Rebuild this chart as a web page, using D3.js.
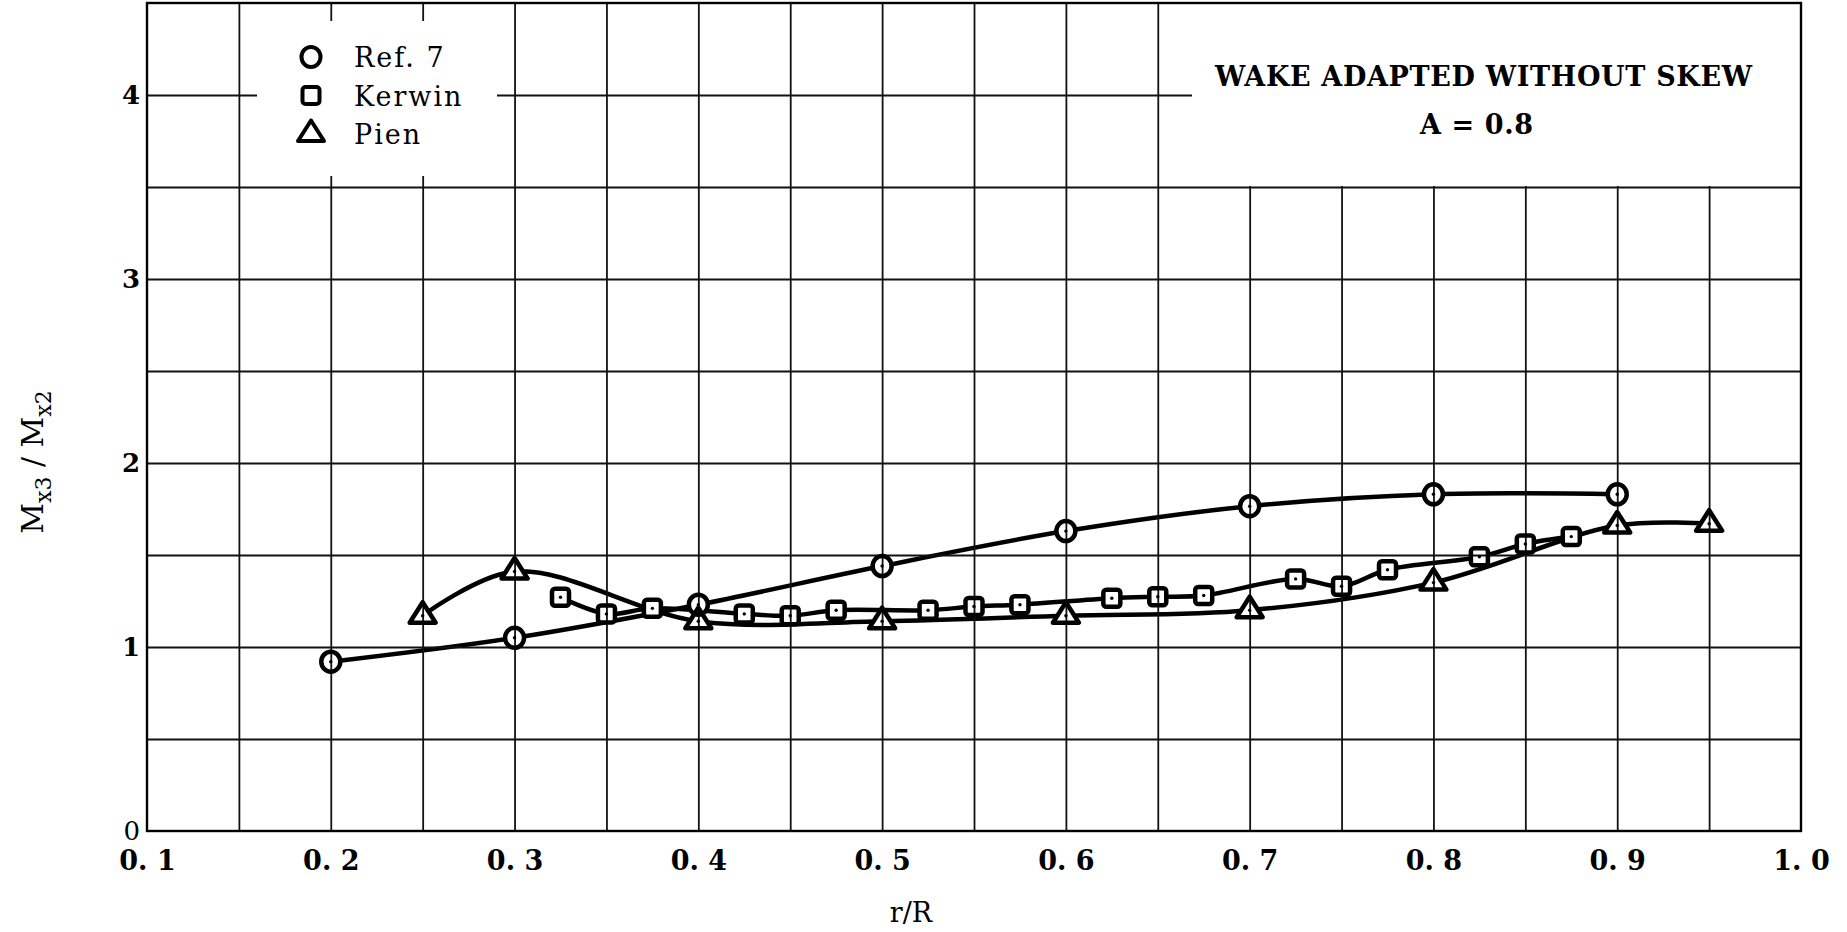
<!DOCTYPE html>
<html>
<head>
<meta charset="utf-8">
<script src="https://cdn.jsdelivr.net/npm/d3@7"></script>
<style>
  body { margin: 0; background: #fff; }
  text { font-family: "DejaVu Serif", serif; fill: #000; }
</style>
</head>
<body>
<div id="chart"></div>
<script>
// values
const ref7R  = [0.2, 0.3, 0.4, 0.5, 0.6, 0.7, 0.8, 0.9];
const ref7   = [0.92, 1.05, 1.23, 1.44, 1.63, 1.765, 1.83, 1.83];

const kerwinR = [0.325, 0.35, 0.375, 0.425, 0.45, 0.475, 0.525, 0.55, 0.575,
                 0.625, 0.65, 0.675, 0.725, 0.75, 0.775, 0.825, 0.85, 0.875];
const kerwin  = [1.27, 1.18, 1.21, 1.18, 1.17, 1.20, 1.20, 1.22, 1.23,
                 1.265, 1.273, 1.28, 1.37, 1.33, 1.42, 1.49, 1.56, 1.60];

const pienR = [0.25, 0.3, 0.4, 0.5, 0.6, 0.7, 0.8, 0.9, 0.95];
const pien  = [1.17, 1.41, 1.14, 1.14, 1.17, 1.20, 1.35, 1.66, 1.67];

const xTicks = [0.1, 0.2, 0.3, 0.4, 0.5, 0.6, 0.7, 0.8, 0.9, 1.0];
const xTickLabels = ["0. 1", "0. 2", "0. 3", "0. 4", "0. 5", "0. 6", "0. 7", "0. 8", "0. 9", "1. 0"];
const yTicks = [0, 1, 2, 3, 4];
const yTickLabels = ["0", "1", "2", "3", "4"];
const legendNames = ["Ref. 7", "Kerwin", "Pien"];
const titleLines = ["WAKE ADAPTED WITHOUT SKEW", "A = 0.8"];

const width = 1847, height = 932;
const svg = d3.select("#chart").append("svg")
  .attr("width", width)
  .attr("height", height);

const x = d3.scaleLinear().domain([0.1, 1.0]).range([147, 1801]);
const y = d3.scaleLinear().domain([0, 4.5]).range([831, 3]);

const gridX = d3.range(3, 20).map(i => i * 0.05);
const gridY = d3.range(1, 9).map(i => i * 0.5);

const series = [
  { name: legendNames[0], shape: "circle",   r: ref7R,   v: ref7 },
  { name: legendNames[1], shape: "square",   r: kerwinR, v: kerwin },
  { name: legendNames[2], shape: "triangle", r: pienR,   v: pien }
];

function shape(g, type) {
  if (type === "circle") return g.append("ellipse").attr("rx", 9.5).attr("ry", 10);
  if (type === "square") return g.append("rect")
    .attr("x", -8.5).attr("y", -8.5).attr("width", 17).attr("height", 17).attr("rx", 3);
  return g.append("path").attr("d", "M0,-13.5L13,7L-13,7Z");
}

// curves
const line = d3.line()
  .x(d => x(d[0]))
  .y(d => y(d[1]))
  .curve(d3.curveCatmullRom.alpha(0.5));

series.forEach(s => {
  svg.append("path")
    .attr("d", line(s.r.map((r, i) => [r, s.v[i]])))
    .attr("fill", "none")
    .attr("stroke", "#000")
    .attr("stroke-width", 4.5)
    .attr("stroke-linecap", "round");
});

// white insides of the markers
const fills = svg.append("g");
series.forEach(s => {
  s.r.forEach((r, i) => {
    const g = fills.append("g").attr("transform", `translate(${x(r)},${y(s.v[i])})`);
    shape(g, s.shape).attr("fill", "#fff");
  });
});

// grid
const gx = svg.append("g")
  .attr("transform", `translate(0,${y(0)})`)
  .call(d3.axisBottom(x).tickValues(gridX).tickSize(-(y(0) - y(4.5))).tickFormat(""));
gx.select(".domain").remove();
gx.selectAll("line").attr("stroke", "#111").attr("stroke-width", 1.8);

const gy = svg.append("g")
  .attr("transform", `translate(${x(0.1)},0)`)
  .call(d3.axisLeft(y).tickValues(gridY).tickSize(-(x(1.0) - x(0.1))).tickFormat(""));
gy.select(".domain").remove();
gy.selectAll("line").attr("stroke", "#111").attr("stroke-width", 1.8);

// white boxes for legend and title
svg.append("rect").attr("x", 257).attr("y", 21).attr("width", 240).attr("height", 155).attr("fill", "#fff");
svg.append("rect").attr("x", 1192).attr("y", y(4.5)).attr("width", x(1.0) - 1192).attr("height", y(3.5) - y(4.5) - 1).attr("fill", "#fff");

// marker outlines
series.forEach(s => {
  s.r.forEach((r, i) => {
    const g = svg.append("g").attr("transform", `translate(${x(r)},${y(s.v[i])})`);
    shape(g, s.shape)
      .attr("fill", "none")
      .attr("stroke", "#000")
      .attr("stroke-width", 4.5)
      .attr("stroke-linejoin", "round");
    g.append("circle").attr("r", 1.7).attr("fill", "#000");
  });
});

// legend
const legend = svg.append("g");
series.forEach((s, i) => {
  const row = 57 + i * 38.5;
  const g = legend.append("g").attr("transform", `translate(311,${row})`);
  shape(g, s.shape)
    .attr("fill", "none")
    .attr("stroke", "#000")
    .attr("stroke-width", 4)
    .attr("stroke-linejoin", "round");
  legend.append("text")
    .attr("x", 354)
    .attr("y", row + 10)
    .attr("font-size", 27)
    .attr("letter-spacing", 2)
    .text(s.name);
});

// title box text
svg.append("text")
  .attr("x", 1215).attr("y", 86)
  .attr("font-size", 27).attr("font-weight", "bold")
  .attr("textLength", 537).attr("lengthAdjust", "spacing")
  .text(titleLines[0]);
svg.append("text")
  .attr("x", 1420).attr("y", 134)
  .attr("font-size", 27).attr("font-weight", "bold")
  .attr("textLength", 113).attr("lengthAdjust", "spacing")
  .text(titleLines[1]);

// frame
svg.append("rect")
  .attr("x", x(0.1)).attr("y", y(4.5))
  .attr("width", x(1.0) - x(0.1)).attr("height", y(0) - y(4.5))
  .attr("fill", "none").attr("stroke", "#000").attr("stroke-width", 2.4);

// tick labels
const ax = svg.append("g")
  .attr("transform", `translate(0,${y(0)})`)
  .call(d3.axisBottom(x).tickValues(xTicks).tickSize(0).tickFormat((d, i) => xTickLabels[i]));
ax.select(".domain").remove();
ax.selectAll("text")
  .attr("y", 39).attr("dy", 0)
  .attr("font-size", 27).attr("font-weight", "bold")
  .attr("font-family", "DejaVu Serif, serif");

const ay = svg.append("g")
  .attr("transform", `translate(${x(0.1)},0)`)
  .call(d3.axisLeft(y).tickValues(yTicks).tickSize(0).tickPadding(7).tickFormat((d, i) => yTickLabels[i]));
ay.select(".domain").remove();
ay.selectAll("text")
  .attr("font-size", 26)
  .attr("font-weight", (d, i) => i === 0 ? "normal" : "bold")
  .attr("font-family", "DejaVu Serif, serif");

// axis titles
svg.append("text")
  .attr("x", 911).attr("y", 922)
  .attr("text-anchor", "middle")
  .attr("font-size", 27)
  .text("r/R");

const yl = svg.append("text")
  .attr("transform", "translate(43,462) rotate(-90)")
  .attr("text-anchor", "middle")
  .attr("font-size", 30);
yl.append("tspan").text("M");
yl.append("tspan").attr("dy", 8).attr("font-size", 22).text("x3");
yl.append("tspan").attr("dy", -8).text(" / M");
yl.append("tspan").attr("dy", 8).attr("font-size", 22).text("x2");
</script>
</body>
</html>
